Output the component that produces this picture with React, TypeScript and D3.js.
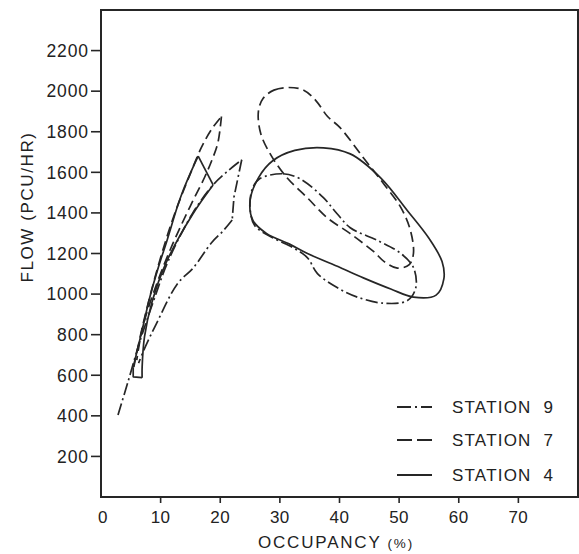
import React from "react";
import * as d3 from "d3";

type Pt = [number, number];

// Axis ticks
const occupancyTicks = [0, 10, 20, 30, 40, 50, 60, 70];
const flowTicks = [200, 400, 600, 800, 1000, 1200, 1400, 1600, 1800, 2000, 2200];

// Station 9 (dash-dot): uncongested branch, peak, return branch, congested loop
const station9Rise: Pt[] = [[2.85, 404], [4.5, 565], [6.5, 765], [8.8, 965], [11.3, 1165], [15.4, 1400], [18.8, 1538], [21, 1600], [23.6, 1662]];
const station9Drop: Pt[] = [[23.6, 1662], [22.3, 1478], [22, 1365]];
const station9Return: Pt[] = [[22, 1365], [20.5, 1312], [18.5, 1252], [15.5, 1130], [12.8, 1050], [9.3, 855], [7.5, 745], [6.3, 660]];
const station9Loop: Pt[] = [[26.6, 1568], [30.5, 1593], [33.4, 1568], [37.3, 1475], [39.6, 1396], [41.8, 1327], [46.4, 1264], [50.3, 1200], [52.4, 1131], [52.8, 1032], [51.4, 968], [47.4, 955], [43, 985], [39.6, 1032], [36.3, 1101], [34.6, 1180], [32.2, 1229], [28.8, 1278], [25.8, 1337], [25, 1426], [25.4, 1520]];

// Station 7 (dashed)
const station7Rise: Pt[] = [[5.5, 640], [6.8, 820], [8.4, 1010], [10.2, 1200], [12.4, 1400], [14.8, 1580], [16.8, 1720], [18.5, 1810], [20.2, 1875]];
const station7Return: Pt[] = [[20.2, 1875], [19.6, 1745], [18.6, 1660], [17.4, 1577], [14.9, 1429], [12.1, 1252], [9.4, 1055], [7, 838], [6, 675]];
const station7Loop: Pt[] = [[27.2, 1965], [29, 2005], [31.5, 2018], [34, 2005], [36, 1955], [38, 1875], [40.1, 1820], [44, 1672], [47.4, 1544], [50.3, 1426], [51.9, 1313], [52.4, 1200], [51.7, 1145], [49.7, 1128], [47.5, 1160], [45.7, 1210], [41.8, 1298], [37.9, 1377], [34.6, 1475], [31.2, 1573], [28.6, 1680], [26.8, 1790], [26.4, 1900]];

// Station 4 (solid)
const station4Rise: Pt[] = [[5.4, 640], [6.8, 810], [8.2, 986], [9.6, 1130], [11.1, 1267], [12.8, 1430], [13.8, 1513], [15.2, 1610], [16.3, 1680]];
const station4Cut: Pt[] = [[16.3, 1680], [18.8, 1538]];
const station4Return: Pt[] = [[18.8, 1538], [15.4, 1395], [11, 1160], [8.5, 955], [7.3, 790], [6.9, 640], [6.9, 588]];
const station4Foot: Pt[] = [[6.9, 588], [5.4, 592], [5.4, 640]];
const station4Loop: Pt[] = [[37.3, 1721], [41.8, 1691], [46.9, 1573], [51.4, 1411], [55, 1275], [57.2, 1160], [57.5, 1075], [56.2, 995], [52.4, 985], [48.6, 1025], [44, 1080], [40.1, 1131], [35, 1195], [31.7, 1245], [27.8, 1298], [25.5, 1362], [25, 1460], [26.4, 1573], [28.8, 1657], [32.5, 1708]];

const stationNames = ["STATION 9", "STATION 7", "STATION 4"];

type Seg = { pts: Pt[]; kind: "smooth" | "straight" | "loop" };
const stations: { name: string; dash: string; key: string; segs: Seg[] }[] = [
  {
    name: stationNames[0],
    dash: "12,3.5,2,3.5",
    key: "14,4,2,4",
    segs: [
      { pts: station9Rise, kind: "smooth" },
      { pts: station9Drop, kind: "straight" },
      { pts: station9Return, kind: "smooth" },
      { pts: station9Loop, kind: "loop" },
    ],
  },
  {
    name: stationNames[1],
    dash: "10,5",
    key: "15,5",
    segs: [
      { pts: station7Rise, kind: "smooth" },
      { pts: station7Return, kind: "smooth" },
      { pts: station7Loop, kind: "loop" },
    ],
  },
  {
    name: stationNames[2],
    dash: "none",
    key: "none",
    segs: [
      { pts: station4Rise, kind: "smooth" },
      { pts: station4Cut, kind: "straight" },
      { pts: station4Return, kind: "smooth" },
      { pts: station4Foot, kind: "straight" },
      { pts: station4Loop, kind: "loop" },
    ],
  },
];

const W = 579;
const H = 554;
const left = 101;
const right = 578;
const top = 10;
const bottom = 497;
const ink = "#262626";
const textInk = "#222";
const font = "'Liberation Sans', Arial, Helvetica, sans-serif";

export default function App() {
  const x = d3.scaleLinear().domain([0, 80]).range([left, right]);
  const y = d3.scaleLinear().domain([0, 2400]).range([bottom, top]);

  const makeLine = (kind: Seg["kind"]) => {
    const curve =
      kind === "loop"
        ? d3.curveCatmullRomClosed.alpha(0.5)
        : kind === "smooth"
        ? d3.curveCatmullRom.alpha(0.5)
        : d3.curveLinear;
    return d3
      .line<Pt>()
      .x((d) => x(d[0]))
      .y((d) => y(d[1]))
      .curve(curve);
  };

  const legendRows = [407, 440, 475];

  return (
    <div style={{ position: "fixed", left: 0, top: 0, background: "#fff" }}>
      <svg width={W} height={H} viewBox={`0 0 ${W} ${H}`} style={{ display: "block" }}>
        <rect x={0} y={0} width={W} height={H} fill="#fff" />
        {/* frame */}
        <rect x={left} y={top} width={right - left} height={bottom - top} fill="none" stroke={ink} strokeWidth={2} />

        {/* y axis ticks */}
        {flowTicks.map((t) => (
          <g key={`y${t}`}>
            <line x1={left - 10} x2={left} y1={y(t)} y2={y(t)} stroke={ink} strokeWidth={1.6} />
            <text
              x={left - 12}
              y={y(t)}
              dy="0.36em"
              textAnchor="end"
              fontFamily={font}
              fontSize={17.5}
              letterSpacing={0.9}
              fill={textInk}
            >
              {t}
            </text>
          </g>
        ))}

        {/* x axis ticks */}
        {occupancyTicks.map((t) => (
          <g key={`x${t}`}>
            {t > 0 && <line x1={x(t)} x2={x(t)} y1={bottom} y2={bottom + 6} stroke={ink} strokeWidth={1.6} />}
            <text
              x={x(t) + (t === 0 ? 2 : 0)}
              y={523}
              textAnchor="middle"
              fontFamily={font}
              fontSize={17}
              letterSpacing={0.5}
              fill={textInk}
            >
              {t}
            </text>
          </g>
        ))}

        {/* axis titles */}
        <text x={258} y={548} fontFamily={font} fontSize={17} letterSpacing={1.8} fill={textInk}>
          OCCUPANCY
          <tspan dx={6} fontSize={13.5} letterSpacing={1.8}>(%)</tspan>
        </text>
        <text
          transform={`translate(33, 207) rotate(-90)`}
          textAnchor="middle"
          fontFamily={font}
          fontSize={17}
          letterSpacing={1.6}
          fill={textInk}
        >
          FLOW (PCU/HR)
        </text>

        {/* flow-occupancy traces */}
        {stations.map((s) => (
          <g key={s.name}>
            {s.segs.map((seg, i) => (
              <path
                key={i}
                d={makeLine(seg.kind)(seg.pts) ?? ""}
                fill="none"
                stroke={ink}
                strokeWidth={1.7}
                strokeDasharray={s.dash}
                strokeLinejoin="round"
                strokeLinecap="butt"
              />
            ))}
          </g>
        ))}

        {/* legend */}
        {stations.map((s, i) => (
          <g key={`lg${s.name}`}>
            <line
              x1={397}
              x2={432}
              y1={legendRows[i]}
              y2={legendRows[i]}
              stroke={ink}
              strokeWidth={1.8}
              strokeDasharray={s.key}
            />
            <text
              x={452}
              y={legendRows[i]}
              dy="0.36em"
              fontFamily={font}
              fontSize={17}
              letterSpacing={1.2}
              fill={textInk}
              xmlSpace="preserve"
            >
              {s.name.replace(" ", "  ")}
            </text>
          </g>
        ))}
      </svg>
    </div>
  );
}
